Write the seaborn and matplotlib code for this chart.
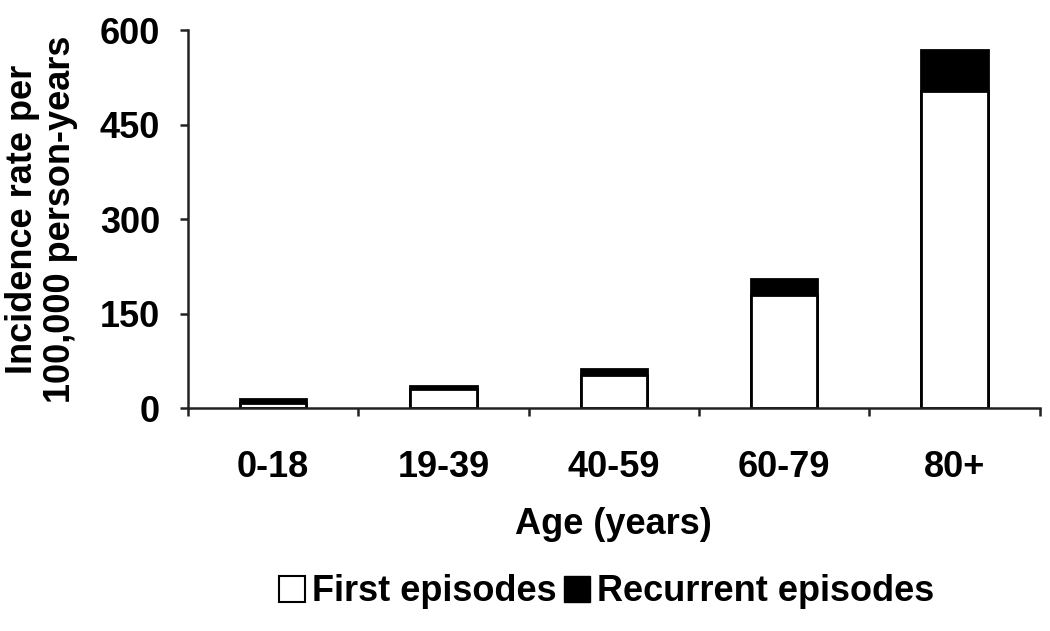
import matplotlib
matplotlib.use('Agg')
import matplotlib.pyplot as plt
import seaborn as sns
import pandas as pd
from matplotlib.patches import Patch

age_groups = ["0-18", "19-39", "40-59", "60-79", "80+"]
first_episodes = [9, 31, 52, 179, 503]
recurrent_episodes = [5, 5, 10, 26, 65]

df = pd.DataFrame({
    "age": age_groups,
    "first": first_episodes,
    "total": [f + r for f, r in zip(first_episodes, recurrent_episodes)],
})

sns.set_style("white")
plt.rcParams['font.family'] = ['Liberation Sans', 'DejaVu Sans']
plt.rcParams['font.weight'] = 'bold'
plt.rcParams['text.color'] = 'black'

FS = 26

fig = plt.figure(figsize=(10.5, 6.31), dpi=100)
ax = fig.add_axes([0.179, 0.353, 0.811, 0.599])

# stacked look: full total in black, first episodes in white on top
sns.barplot(data=df, x="age", y="total", color="black", width=0.39,
            edgecolor="black", linewidth=2, saturation=1, ax=ax)
sns.barplot(data=df, x="age", y="first", color="white", width=0.39,
            edgecolor="black", linewidth=2, saturation=1, ax=ax)

ax.set_ylim(0, 600)
ax.set_xlim(-0.5, 4.5)
ax.set_yticks([0, 150, 300, 450, 600])
ax.set_xticks([i - 0.5 for i in range(6)], minor=True)

for s in ["top", "right"]:
    ax.spines[s].set_visible(False)
for s in ["left", "bottom"]:
    ax.spines[s].set_color("#222222")
    ax.spines[s].set_linewidth(1.8)

ax.tick_params(axis="y", which="major", direction="out", length=6, width=1.8,
               color="#222222", labelsize=FS, pad=14, left=True, labelcolor="black")
ax.tick_params(axis="x", which="major", length=0, labelsize=FS, pad=30, labelcolor="black")
ax.tick_params(axis="x", which="minor", direction="out", length=6, width=1.8,
               color="#222222", bottom=True)

for lbl in ax.get_xticklabels() + ax.get_yticklabels():
    lbl.set_fontweight("bold")

ax.set_xlabel("Age (years)", fontsize=FS, fontweight="bold", labelpad=16, color="black")
ax.set_ylabel("Incidence rate per\n100,000 person-years", fontsize=FS,
              fontweight="bold", labelpad=16, linespacing=1.1, color="black")

handles = [Patch(facecolor="white", edgecolor="black", linewidth=1.5, label="First episodes"),
           Patch(facecolor="black", edgecolor="black", label="Recurrent episodes")]
fig.legend(handles=handles, loc="center", bbox_to_anchor=(0.578, 0.062), ncol=2,
           frameon=False, handlelength=0.72, handleheight=0.72,
           handletextpad=0.2, columnspacing=0.2, prop={"weight": "bold", "size": FS})

fig.savefig("out.png", dpi=100)
